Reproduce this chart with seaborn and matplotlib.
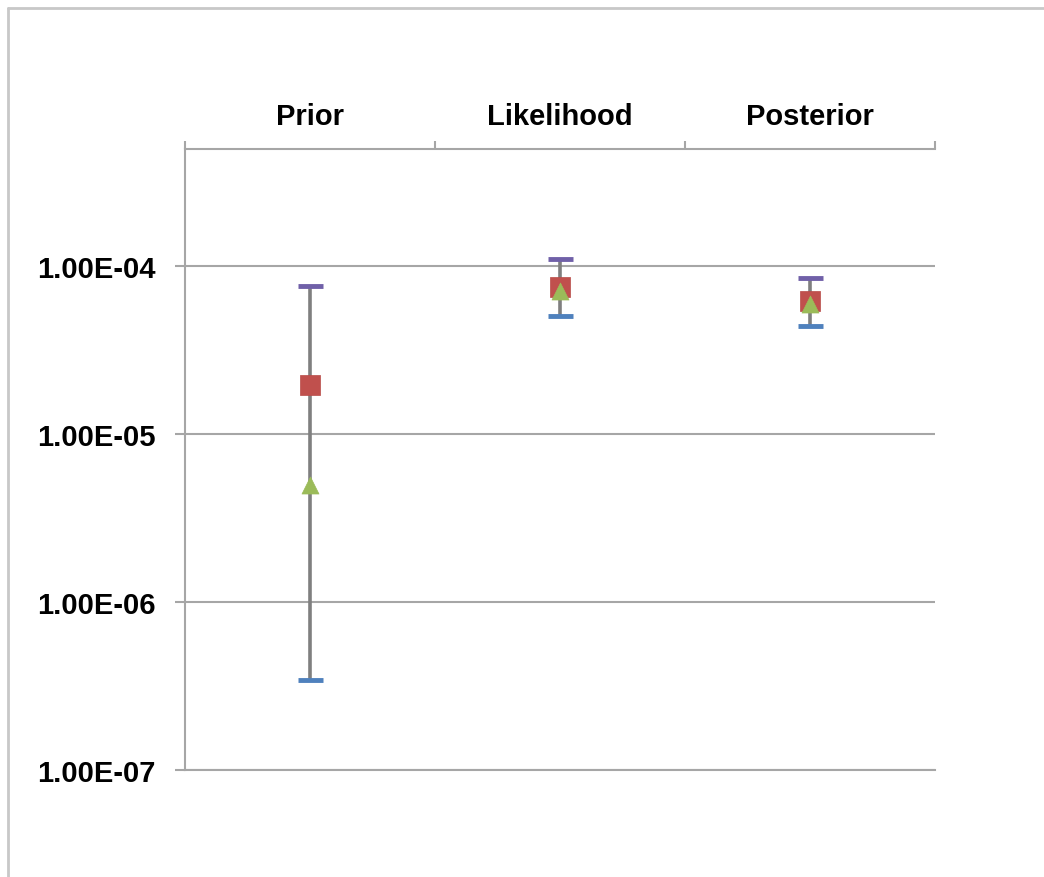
import numpy as np
import pandas as pd
import matplotlib
matplotlib.use("Agg")
import matplotlib.pyplot as plt
from matplotlib.lines import Line2D
from matplotlib.ticker import FixedLocator, NullFormatter, FuncFormatter
import seaborn as sns

# values
categories = ["Prior", "Likelihood", "Posterior"]
high = [7.6e-5, 1.10e-4, 8.5e-5]
low = [3.43e-7, 5.04e-5, 4.39e-5]
square_vals = [1.96e-5, 7.55e-5, 6.19e-5]
triangle_vals = [5.0e-6, 7.1e-5, 5.94e-5]
ytick_vals = [1e-7, 1e-6, 1e-5, 1e-4]

df = pd.DataFrame({"cat": categories, "high": high, "low": low,
                   "sq": square_vals, "tri": triangle_vals})

sns.set_style("white")
plt.rcParams["font.family"] = ["Liberation Sans", "DejaVu Sans"]

fig = plt.figure(figsize=(10.44, 8.78), dpi=100)
ax = fig.add_axes([185 / 1044, 107 / 878, 750 / 1044, 621 / 878])

grid_col = "#A6A6A6"

# high-low lines
ax.vlines(df["cat"], df["low"], df["high"], color="#7F7F7F", lw=2.6, zorder=2)
# caps
ax.plot(df["cat"], df["high"], ls="none", marker="_", ms=18, mew=3.5,
        color="#7060A8", zorder=3)
ax.plot(df["cat"], df["low"], ls="none", marker="_", ms=18, mew=3.5,
        color="#4F81BD", zorder=3)
# series markers
sns.scatterplot(data=df, x="cat", y="sq", marker="s", s=190, color="#C0504D",
                edgecolor="#B84A47", linewidth=0.5, ax=ax, zorder=4)
sns.scatterplot(data=df, x="cat", y="tri", marker="^", s=150, color="#9BBB59",
                edgecolor="#9BBB59", linewidth=0.5, ax=ax, zorder=5)

ax.set_yscale("log")
ax.set_ylim(1e-7, 10 ** -3.3036)
ax.set_xlim(-0.5, 2.5)
ax.set_xlabel("")
ax.set_ylabel("")

ax.yaxis.set_major_locator(FixedLocator(ytick_vals))
ax.yaxis.set_minor_locator(FixedLocator([]))
ax.yaxis.set_major_formatter(FuncFormatter(lambda v, p: f"{v:.2E}"))
ax.yaxis.grid(True, color=grid_col, lw=1.5)
ax.xaxis.grid(False)

# category axis on top
ax.xaxis.set_ticks_position("top")
ax.xaxis.set_label_position("top")
ax.set_xticks([0, 1, 2])
ax.set_xticklabels(categories)
ax.xaxis.set_minor_locator(FixedLocator([-0.5, 0.5, 1.5, 2.5]))
ax.xaxis.set_minor_formatter(NullFormatter())
ax.tick_params(axis="x", which="major", top=True, bottom=False, length=0,
               pad=14, labelsize=21, labelcolor="black")
ax.tick_params(axis="x", which="minor", top=True, bottom=False, length=6,
               width=1.5, color=grid_col, direction="out")
ax.tick_params(axis="y", which="major", left=True, length=7, width=1.5,
               color=grid_col, direction="out", pad=14, labelsize=21,
               labelcolor="black")
for lab in ax.get_xticklabels() + ax.get_yticklabels():
    lab.set_fontweight("bold")

for side in ["left", "top", "bottom"]:
    ax.spines[side].set_visible(True)
    ax.spines[side].set_color(grid_col)
    ax.spines[side].set_linewidth(1.5)
ax.spines["right"].set_visible(False)

# outer chart frame
fig.add_artist(Line2D([8 / 1044, 8 / 1044], [0, 1 - 9 / 878],
                      transform=fig.transFigure, color="#C8C8C8", lw=2))
fig.add_artist(Line2D([8 / 1044, 1], [1 - 9 / 878, 1 - 9 / 878],
                      transform=fig.transFigure, color="#C8C8C8", lw=2))

fig.savefig("out.png", dpi=100)
